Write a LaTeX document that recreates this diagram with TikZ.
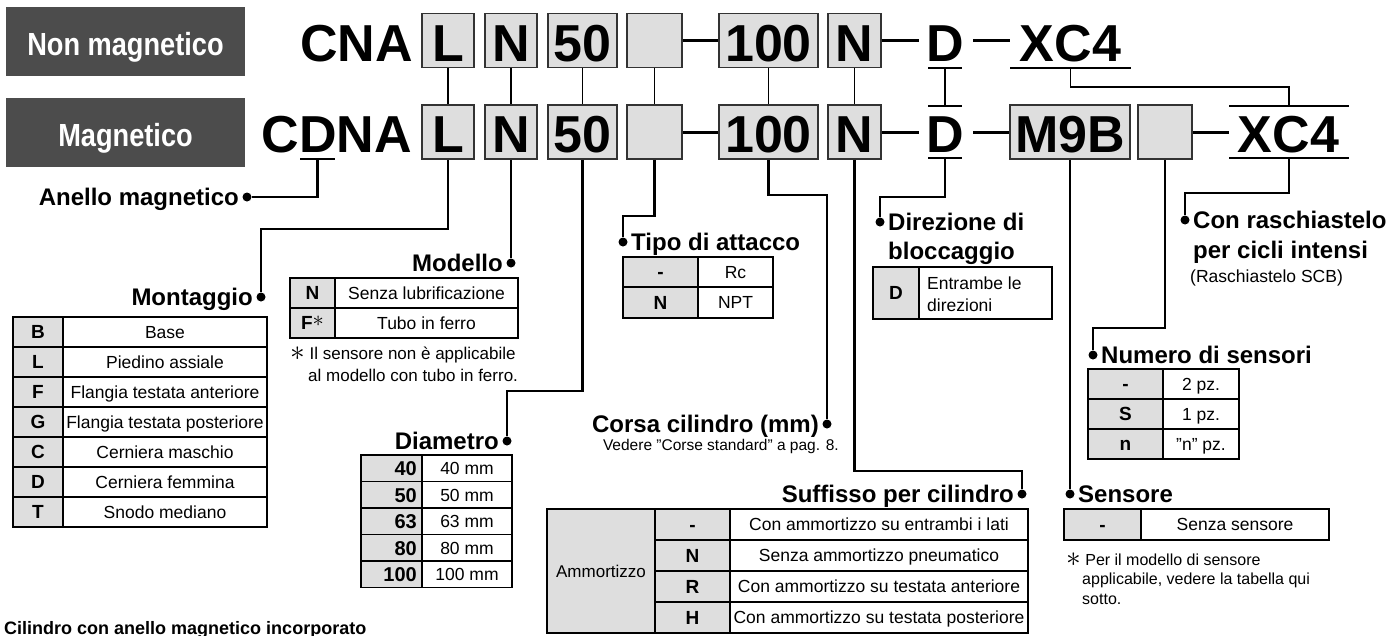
\documentclass[tikz,border=0pt]{standalone}
\usepackage{fontspec}
\setmainfont{Liberation Sans}
\newfontfamily\hdrfont[FakeStretch=0.85]{Liberation Sans}
\newcommand{\bigast}{\raisebox{-1pt}{\scalebox{1.7}{$\ast$}}}
\newcommand{\cb}[6]{%
  \node[cbox, minimum width=#4pt] (#1) at (#2,#3) {};
  \node[ctext] (#1t) at (#2,#6) {#5};}
\newcommand{\trow}[8]{%
  \fill[keyfill] (#2,#5) rectangle (#3,#6);
  \draw[tline] (#2,#5) rectangle (#4,#6);
  \draw[tline] (#3,#5) -- (#3,#6);
  \node[keytxt] (#1k) at ({(#2+#3)/2},{(#5+#6)/2}) {#7};
  \node[valtxt] (#1v) at ({(#3+#4)/2},{(#5+#6)/2}) {#8};}
\newcommand{\drow}[5]{%
  \fill[keyfill] (361,#2) rectangle (422,#3);
  \draw[tline] (361,#2) rectangle (512,#3);
  \draw[tline] (422,#2) -- (422,#3);
  \node[keytxt, font=\bfseries\fontsize{20}{20}\selectfont, text height=14.5pt, anchor=east] (#1k) at (417,{(#2+#3)/2}) {#4};
  \node[valtxt] (#1v) at (467,{(#2+#3)/2}) {#5};}
\begin{document}
\begin{tikzpicture}[x=1pt,y=-1pt,
  cbox/.style={draw=black!80, fill=black!13, line width=1.6pt, inner sep=0pt, minimum height=54pt},
  ctext/.style={font=\bfseries\fontsize{52}{52}\selectfont, inner sep=0pt, anchor=base},
  hdr/.style={fill=black!70, inner sep=0pt, minimum width=239pt, minimum height=69pt, text=white,
    font=\hdrfont\bfseries\fontsize{32}{32}\selectfont, text height=27pt, text depth=0pt},
  rowline/.style={line width=3pt},
  ul/.style={line width=2pt},
  link/.style={line width=1.6pt},
  conn/.style={line width=2.2pt},
  jdot/.style={circle, fill=black, inner sep=0pt, minimum size=9pt},
  ttl/.style={font=\bfseries\fontsize{24}{24}\selectfont, inner sep=0pt, text height=17pt, text depth=0pt},
  tline/.style={line width=1.1pt},
  keyfill/.style={fill=black!13},
  keytxt/.style={font=\bfseries\fontsize{19}{19}\selectfont, inner sep=0pt, text height=13.5pt, text depth=0pt},
  valtxt/.style={font=\fontsize{17.5}{17.5}\selectfont, inner sep=0pt, text height=12.7pt, text depth=0pt},
  note/.style={font=\fontsize{16}{19}\selectfont, inner sep=0pt, anchor=base west}
]
\useasboundingbox (0,0) rectangle (1400,635);
% ---------- header labels
\node[hdr] (hNon) at (125.5,41.5) {Non magnetico};
\node[hdr] (hMag) at (125.5,132.5) {Magnetico};
% ---------- row 1
\node[ctext, anchor=base east] (CNA) at (413,61) {CNA};
\cb{L1}{448}{40.5}{52}{L}{61}
\cb{N1}{511}{40.5}{52}{N}{61}
\cb{F1}{582.5}{40.5}{69}{50}{61}
\cb{E1}{654.5}{40.5}{55}{}{61}
\cb{H1}{768.5}{40.5}{99}{100}{61}
\cb{S1}{854.5}{40.5}{53}{N}{61}
\node[ctext] (D1) at (945,61) {D};
\node[ctext] (X1) at (1070.5,61) {XC4};
\coordinate (r1a) at (919,40.5);
\coordinate (r1b) at (973,40.5);
\coordinate (r1c) at (1010,40.5);
\draw[rowline] (E1) -- (H1);
\draw[rowline] (S1) -- (r1a);
\draw[rowline] (r1b) -- (r1c);
\draw[ul] (928,68) -- (962,68);
\draw[ul] (1010,68) -- (1131,68);
% ---------- row 2
\node[ctext, anchor=base east] (CDNA) at (412,152) {CDNA};
\draw[ul] (300,159) -- (335,159);
\cb{L2}{448}{132}{52}{L}{152}
\cb{N2}{511}{132}{52}{N}{152}
\cb{F2}{582.5}{132}{69}{50}{152}
\cb{E2}{654.5}{132}{55}{}{152}
\cb{H2}{768.5}{132}{99}{100}{152}
\cb{S2}{854.5}{132}{53}{N}{152}
\node[ctext] (D2) at (945,152) {D};
\cb{M2}{1070}{132}{120}{M9B}{152}
\cb{E3}{1165}{132}{54}{}{152}
\node[ctext] (X2) at (1288.5,152) {XC4};
\coordinate (r2a) at (919,132);
\coordinate (r2b) at (973,132);
\coordinate (r2c) at (1229,132);
\draw[rowline] (E2) -- (H2);
\draw[rowline] (S2) -- (r2a);
\draw[rowline] (r2b) -- (M2);
\draw[rowline] (E3) -- (r2c);
\draw[ul] (928,106) -- (962,106);
\draw[ul] (928,158) -- (962,158);
\draw[ul] (1229,106) -- (1349,106);
\draw[ul] (1229,158) -- (1349,158);
% ---------- links between rows
\coordinate (D1u) at (945,68);
\coordinate (D2o) at (945,106);
\coordinate (X1u) at (1070.5,68);
\coordinate (X2o) at (1289,106);
\draw[link] (L1) -- (L2);
\draw[link] (N1) -- (N2);
\draw[link] (F1) -- (F2);
\draw[link] (E1) -- (E2);
\draw[link] (H1) -- (H2);
\draw[link] (S1) -- (S2);
\draw[link] (D1u) -- (D2o);
\draw[link] (X1u) -- ++(0,19) -| (X2o);
% ---------- connectors to the legends
\coordinate (cdD) at (317.5,159);
\coordinate (D2u) at (945,158);
\coordinate (X2u) at (1289,158);
\node[jdot] (dAn) at (247,197) {};
\node[jdot] (dMont) at (261,297) {};
\node[jdot] (dMod) at (511,263) {};
\node[jdot] (dDia) at (507,441) {};
\node[jdot] (dTipo) at (623,242) {};
\node[jdot] (dCor) at (827,424) {};
\node[jdot] (dSuf) at (1022,494) {};
\node[jdot] (dDir) at (880,222) {};
\node[jdot] (dSen) at (1070,494) {};
\node[jdot] (dNum) at (1093,355) {};
\node[jdot] (dCon) at (1185,220) {};
\draw[conn] (cdD) |- (dAn);
\draw[conn] (L2.south) -- ++(0,69) -| (dMont);
\draw[conn] (N2) -- (dMod);
\draw[conn] (F2.south) -- ++(0,231) -| (dDia);
\draw[conn] (E2.south) -- ++(0,56) -| (dTipo);
\draw[conn] (H2.south) -- ++(0,35) -| (dCor);
\draw[conn] (S2.south) -- ++(0,311) -| (dSuf);
\draw[conn] (D2u) -- ++(0,39) -| (dDir);
\draw[conn] (M2) -- (dSen);
\draw[conn] (E3.south) -- ++(0,168) -| (dNum);
\draw[conn] (X2u) -- ++(0,35) -| (dCon);
% ---------- titles
\node[ttl, anchor=east] (tAn) at (239,197) {Anello magnetico};
\node[ttl, anchor=east] (tMont) at (253,297) {Montaggio};
\node[ttl, anchor=east] (tMod) at (503,263) {Modello};
\node[ttl, anchor=east] (tDia) at (499,441) {Diametro};
\node[ttl, anchor=west] (tTipo) at (631,242) {Tipo di attacco};
\node[ttl, anchor=east] (tCor) at (819,424) {Corsa cilindro (mm)};
\node[note, anchor=base east, font=\fontsize{15.5}{18}\selectfont] (tVed) at (839,450) {Vedere "Corse standard" a pag. 8.};
\node[ttl, anchor=east] (tSuf) at (1014,494) {Suffisso per cilindro};
\node[ttl, anchor=west] (tDir1) at (888,222) {Direzione di};
\node[ttl, anchor=west] (tDir2) at (888,251) {bloccaggio};
\node[ttl, anchor=west] (tSen) at (1078,494) {Sensore};
\node[ttl, anchor=west] (tNum) at (1101,355) {Numero di sensori};
\node[ttl, anchor=west] (tCon1) at (1193,220) {Con raschiastelo};
\node[ttl, anchor=west] (tCon2) at (1193,250) {per cicli intensi};
\node[valtxt, anchor=west] (tCon3) at (1190,276) {(Raschiastelo SCB)};
% ---------- Montaggio table
\trow{mB}{13}{63}{267}{317}{347}{B}{Base}
\trow{mL}{13}{63}{267}{347}{377}{L}{Piedino assiale}
\trow{mF}{13}{63}{267}{377}{407}{F}{Flangia testata anteriore}
\trow{mG}{13}{63}{267}{407}{437}{G}{Flangia testata posteriore}
\trow{mC}{13}{63}{267}{437}{467}{C}{Cerniera maschio}
\trow{mD}{13}{63}{267}{467}{497}{D}{Cerniera femmina}
\trow{mT}{13}{63}{267}{497}{527}{T}{Snodo mediano}
% ---------- Modello table
\trow{oN}{290}{335}{518}{278}{308}{N}{Senza lubrificazione}
\trow{oF}{290}{335}{518}{308}{338}{F{\mdseries\raisebox{3pt}{\scalebox{1.3}{$\ast$}}}}{Tubo in ferro}
\node[note, font=\fontsize{17}{19}\selectfont] (nMod1) at (290,359) {\bigast\ Il sensore non è applicabile};
\node[note, font=\fontsize{17}{19}\selectfont] (nMod2) at (308,381) {al modello con tubo in ferro.};
% ---------- Tipo di attacco table
\trow{pA}{623}{698}{773}{257}{287}{-}{Rc}
\trow{pN}{623}{698}{773}{287}{318}{N}{NPT}
% ---------- Direzione table
\fill[keyfill] (873,267) rectangle (919,319);
\draw[tline] (873,267) rectangle (1052,319);
\draw[tline] (919,267) -- (919,319);
\node[keytxt] (zDk) at (896,293) {D};
\node[valtxt, anchor=west] (zDv1) at (927,283) {Entrambe le};
\node[valtxt, anchor=west] (zDv2) at (927,305) {direzioni};
% ---------- Numero di sensori table
\trow{sA}{1088}{1163}{1239}{369}{399}{-}{2 pz.}
\trow{sS}{1088}{1163}{1239}{399}{429}{S}{1 pz.}
\trow{sN}{1088}{1163}{1239}{429}{459}{n}{"n" pz.}
% ---------- Diametro table
\drow{d40}{455}{481.5}{40}{40 mm}
\drow{d50}{481.5}{508}{50}{50 mm}
\drow{d63}{508}{534.5}{63}{63 mm}
\drow{d80}{534.5}{561}{80}{80 mm}
\drow{d100}{561}{587.5}{100}{100 mm}
% ---------- Suffisso table
\fill[keyfill] (547,509) rectangle (655,633);
\draw[tline] (547,509) rectangle (655,633);
\node[valtxt, font=\fontsize{17}{17}\selectfont] (uAm) at (601,571) {Ammortizzo};
\trow{uA}{655}{730}{1028}{509}{540}{-}{Con ammortizzo su entrambi i lati}
\trow{uN}{655}{730}{1028}{540}{571}{N}{Senza ammortizzo pneumatico}
\trow{uR}{655}{730}{1028}{571}{602}{R}{Con ammortizzo su testata anteriore}
\trow{uH}{655}{730}{1028}{602}{633}{H}{Con ammortizzo su testata posteriore}
% ---------- Sensore table
\trow{eA}{1064}{1141}{1329}{509}{540}{-}{Senza sensore}
\node[note] (nSen1) at (1066,565) {\bigast\ Per il modello di sensore};
\node[note] (nSen2) at (1082,584) {applicabile, vedere la tabella qui};
\node[note] (nSen3) at (1082,604) {sotto.};
% ---------- bottom line (cut by the frame, as in the reference)
\node[inner sep=0pt, anchor=base west, font=\bfseries\fontsize{18}{18}\selectfont] (cil) at (4,634) {Cilindro con anello magnetico incorporato};
\end{tikzpicture}
\end{document}
